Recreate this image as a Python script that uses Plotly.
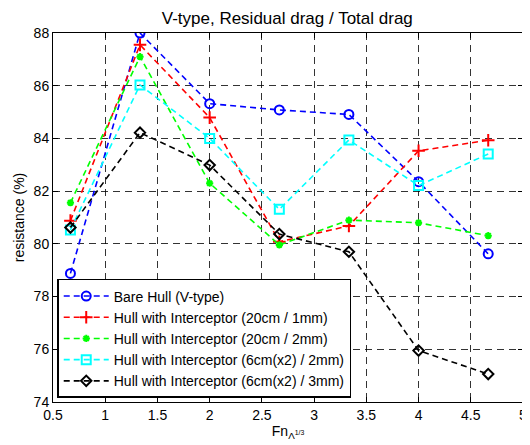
import plotly.graph_objects as go

x = [0.667, 1.333, 2.0, 2.667, 3.333, 4.0, 4.667]
bare = [78.88, 88.0, 85.32, 85.08, 84.91, 82.36, 79.62]
int_20_1 = [80.88, 87.55, 84.79, 80.08, 80.68, 83.53, 83.93]
int_20_2 = [81.56, 87.1, 82.3, 79.96, 80.9, 80.8, 80.31]
int_6_2 = [80.53, 86.03, 84.0, 81.31, 83.94, 82.21, 83.41]
int_6_3 = [80.62, 84.22, 82.99, 80.37, 79.7, 75.95, 75.06]

x_ticks = [0.5, 1, 1.5, 2, 2.5, 3, 3.5, 4, 4.5, 5]
x_tick_labels = ["0.5", "1", "1.5", "2", "2.5", "3", "3.5", "4", "4.5", "5"]
y_ticks = [74, 76, 78, 80, 82, 84, 86, 88]

names = ["Bare Hull (V-type)",
         "Hull with Interceptor (20cm / 1mm)",
         "Hull with Interceptor (20cm / 2mm)",
         "Hull with Interceptor (6cm(x2) / 2mm)",
         "Hull with Interceptor (6cm(x2) / 3mm)"]
series = [bare, int_20_1, int_20_2, int_6_2, int_6_3]
colors = ["#0000ff", "#ff0000", "#00ff00", "#00ffff", "#000000"]
symbols = ["circle-open", "cross-thin-open", "asterisk-open", "square-open", "diamond-open"]
sizes = [9, 9, 6, 9, 8]

fig = go.Figure()
for n, s, c, m, sz in zip(names, series, colors, symbols, sizes):
    fig.add_trace(go.Scatter(
        x=x, y=s, name=n, mode="lines+markers",
        line=dict(color=c, width=1.6, dash="6px,4px"),
        marker=dict(symbol=m, size=sz, color=c, line=dict(color=c, width=2)),
    ))

axis_common = dict(
    showgrid=True, gridcolor="rgba(0,0,0,0.8)", griddash="7px,5px", gridwidth=1,
    showline=True, linecolor="black", linewidth=1, mirror="ticks",
    ticks="inside", ticklen=5, tickcolor="black",
    zeroline=False, tickfont=dict(size=14, color="black"), automargin=False,
)

# page body has an 8px margin, so the figure is shrunk to fit the 530x445 window
fig.update_layout(
    width=522, height=437,
    margin=dict(l=45, r=7, t=25, b=43),
    paper_bgcolor="white", plot_bgcolor="white",
    font=dict(family="Liberation Sans, Arial, sans-serif", size=14, color="black"),
    title=dict(text="V-type, Residual drag / Total drag", x=0.535, xanchor="center",
               y=0.99, yanchor="top", font=dict(size=17)),
    xaxis=dict(range=[0.5, 5], tickvals=x_ticks, ticktext=x_tick_labels,
               title=dict(text="Fn<sub>Λ<sup>1/3</sup></sub>", standoff=0, font=dict(size=14)),
               **axis_common),
    yaxis=dict(range=[74, 88], tickvals=y_ticks,
               title=dict(text="resistance (%)", standoff=5, font=dict(size=14)),
               **axis_common),
    legend=dict(x=0.009, y=0.011, xanchor="left", yanchor="bottom",
                bgcolor="white", bordercolor="black", borderwidth=1.5,
                font=dict(size=14), tracegroupgap=0, itemwidth=45),
)

fig.write_html("out.html")
